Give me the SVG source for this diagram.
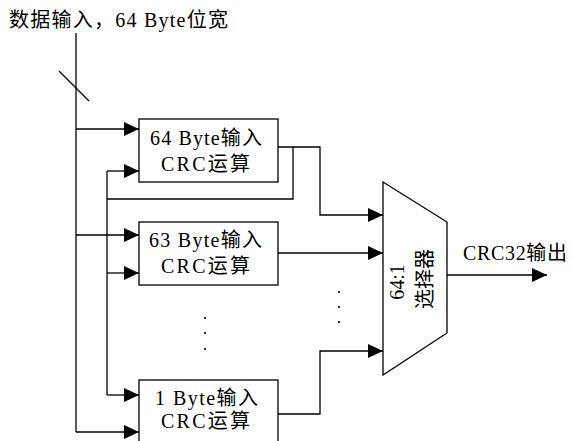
<svg xmlns="http://www.w3.org/2000/svg" width="573" height="441" viewBox="0 0 573 441">
<style>
.ln{fill:none;stroke:#000;stroke-width:1.3}
.box{fill:#fff;stroke:#000;stroke-width:1.3}
.t{font-family:"Liberation Serif","Noto Sans CJK SC",serif;font-size:20px;fill:#000}
.c{text-anchor:middle}
.dot{fill:#000}
</style>
<defs>
<marker id="ah" markerUnits="userSpaceOnUse" markerWidth="15" markerHeight="14" refX="15" refY="7" orient="auto">
<path d="M0,0 L15,7 L0,14 Z" fill="#000"/>
</marker>
</defs>
<text class="t" x="9" y="27" textLength="219" lengthAdjust="spacing">数据输入，64 Byte位宽</text>
<g id="connectors">
<path class="ln" d="M76,33 V432"/>
<path class="ln" d="M59,71 L89,101"/>
<path class="ln" d="M76,129 H139" marker-end="url(#ah)"/>
<path class="ln" d="M76,235 H139" marker-end="url(#ah)"/>
<path class="ln" d="M76,432 H139" marker-end="url(#ah)"/>
<path class="ln" d="M107,171 V395"/>
<path class="ln" d="M107,171 H139" marker-end="url(#ah)"/>
<path class="ln" d="M107,273 H139" marker-end="url(#ah)"/>
<path class="ln" d="M107,395 H139" marker-end="url(#ah)"/>
<path class="ln" d="M278,147 H293 V199 H107"/>
<path class="ln" d="M293,147 H320 V215 H383" marker-end="url(#ah)"/>
<path class="ln" d="M278,253 H383" marker-end="url(#ah)"/>
<path class="ln" d="M278,414 H320 V351 H383" marker-end="url(#ah)"/>
<path class="ln" d="M447,275 H547" marker-end="url(#ah)"/>
</g>
<g id="crc64">
<rect class="box" x="139" y="119" width="139" height="63"/>
<text class="t" x="150" y="145" textLength="112" lengthAdjust="spacing">64 Byte输入</text>
<text class="t" x="161" y="171" textLength="89" lengthAdjust="spacing">CRC运算</text>
</g>
<g id="crc63">
<rect class="box" x="139" y="222" width="139" height="63"/>
<text class="t" x="149" y="247" textLength="113" lengthAdjust="spacing">63 Byte输入</text>
<text class="t" x="161" y="273" textLength="89" lengthAdjust="spacing">CRC运算</text>
</g>
<g id="crc1">
<rect class="box" x="139" y="380" width="139" height="70"/>
<text class="t" x="155" y="405" textLength="103" lengthAdjust="spacing">1 Byte输入</text>
<text class="t" x="161" y="428" textLength="89" lengthAdjust="spacing">CRC运算</text>
</g>
<g id="mux">
<path class="box" d="M383,182 L447,222 L447,333 L383,375 Z"/>
<text class="t c" transform="translate(404,282) rotate(-90)">64:1</text>
<text class="t c" transform="translate(432,279) rotate(-90)">选择器</text>
</g>
<g id="output-label">
<text class="t" x="463" y="260" textLength="104" lengthAdjust="spacing">CRC32输出</text>
</g>
<g id="dots">
<circle class="dot" cx="205" cy="318" r="1.1"/>
<circle class="dot" cx="205" cy="333" r="1.1"/>
<circle class="dot" cx="205" cy="349" r="1.1"/>
<circle class="dot" cx="339" cy="292" r="1.1"/>
<circle class="dot" cx="339" cy="307" r="1.1"/>
<circle class="dot" cx="339" cy="322" r="1.1"/>
</g>
</svg>
